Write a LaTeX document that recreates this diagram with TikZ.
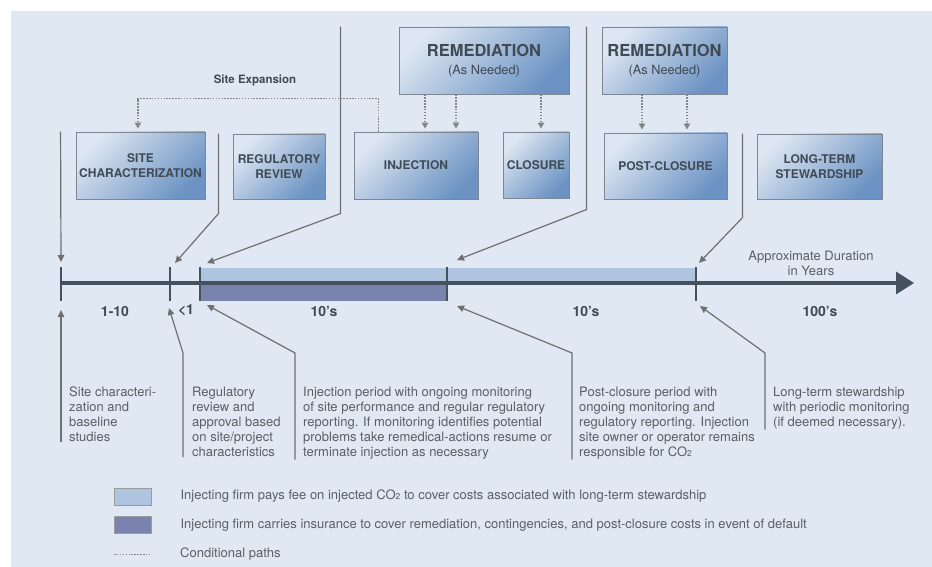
\documentclass[tikz,border=0pt]{standalone}
\usepackage{fontspec}
\setmainfont{TeX Gyre Heros}
\usepackage{xcolor}
\usepackage{tikz}
\usetikzlibrary{positioning}
\usetikzlibrary{arrows.meta,calc}

\definecolor{pagebg}{HTML}{DFE8F3}
\definecolor{boxtop}{HTML}{DDE6F2}
\definecolor{boxbot}{HTML}{6C93C3}
\definecolor{boxline}{HTML}{7D8793}
\definecolor{boxtext}{HTML}{404A55}
\definecolor{feeband}{HTML}{AFC4DF}
\definecolor{insband}{HTML}{7A83AE}
\definecolor{axisgray}{HTML}{44525E}
\definecolor{leadgray}{HTML}{707070}
\definecolor{dotgray}{HTML}{858585}
\definecolor{notegray}{HTML}{5A5F64}

\newcommand{\cotwo}{CO{\fontsize{8.5}{8}\selectfont 2}}

\tikzset{
  phase/.style={draw=boxline, line width=0.9pt, top color=boxtop, bottom color=boxbot,
    shading angle=45, text=boxtext, font=\bfseries\fontsize{12}{14.5}\selectfont,
    align=center, inner sep=0pt},
  remedy/.style={phase, font=\fontsize{12.8}{18}\selectfont},
  note/.style={text=notegray, font=\fontsize{13}{15}\selectfont, align=left,
    inner sep=0pt, anchor=north west},
  span/.style={text=boxtext, font=\bfseries\fontsize{14}{16}\selectfont, inner sep=0pt},
  callout/.style={draw=leadgray, line width=1.2pt, -{Triangle[length=7pt,width=6.5pt]}},
  condpath/.style={draw=dotgray, line width=1.6pt, dash pattern=on 1.5pt off 1.4pt},
  condarrow/.style={condpath, -{Triangle[length=6pt,width=6.5pt]}, shorten >=3pt},
  swatch/.style={draw=leadgray!70, line width=0.8pt, minimum width=37pt, minimum height=17pt, inner sep=0pt}
}

\begin{document}
\begin{tikzpicture}[x=1pt,y=-1pt]
\useasboundingbox (0,0) rectangle (932,567);
\fill[pagebg] (11,11) rectangle (932,567);

% phases
\node[phase, minimum width=129pt, minimum height=67pt] (site) at (140.5,165.5) {SITE\\CHARACTERIZATION};
\node[phase, minimum width=92pt, minimum height=65pt] (reg) at (279,166.5) {REGULATORY\\REVIEW};
\node[phase, minimum width=124pt, minimum height=67pt] (inj) at (416,165.5) {INJECTION};
\node[phase, minimum width=66pt, minimum height=66pt] (clos) at (536,165) {CLOSURE};
\node[phase, minimum width=123pt, minimum height=66pt] (post) at (665.5,166) {POST-CLOSURE};
\node[phase, minimum width=125pt, minimum height=65pt] (lts) at (819.5,166.5) {LONG-TERM\\STEWARDSHIP};

\node[remedy, minimum width=170pt, minimum height=67pt] (remA) at (484,60.5) {{\bfseries\fontsize{16.5}{18}\selectfont REMEDIATION}\\(As Needed)};
\node[remedy, minimum width=125pt, minimum height=67pt] (remB) at (664.5,60.5) {{\bfseries\fontsize{16.5}{18}\selectfont REMEDIATION}\\(As Needed)};

% conditional paths
\node[text=boxtext, font=\bfseries\fontsize{11.5}{13}\selectfont] (expand) at (255,80) {Site Expansion};
\draw[condarrow] ([xshift=25pt]inj.north west) -- ++(0,-33) -| ([xshift=-2.5pt]site.north);
\draw[condarrow] ([xshift=-59pt]remA.south) -- ([xshift=-59pt]remA.south |- inj.north);
\draw[condarrow] ([xshift=-28pt]remA.south) -- ([xshift=-28pt]remA.south |- inj.north);
\draw[condarrow] ([xshift=57pt]remA.south) -- ([xshift=57pt]remA.south |- clos.north);
\draw[condarrow] ([xshift=-22.5pt]remB.south) -- ([xshift=-22.5pt]remB.south |- post.north);
\draw[condarrow] ([xshift=22.5pt]remB.south) -- ([xshift=22.5pt]remB.south |- post.north);

% timeline
\coordinate (t0) at (61,283);
\coordinate (t1) at (170,283);
\coordinate (t2) at (200,283);
\coordinate (t3) at (447,283);
\coordinate (t4) at (696,283);
\coordinate (tend) at (914,283);
\coordinate (lowbend) at (0,353);

\fill[feeband] (200,268) rectangle (696,283);
\fill[insband] (200,283) rectangle (447,301);
\draw[axisgray, line width=3.5pt, -{Triangle[length=18pt,width=22pt]}] (t0) -- (tend);
\foreach \t in {t0,t1,t2,t3,t4}
  \draw[axisgray, line width=2.6pt] ([yshift=16pt]\t) -- ([yshift=-18pt]\t);

\node[span] (yrA) at (115,311) {1-10};
\node[span] (yrB) at (186,310) {<1};
\node[span] (yrC) at (324,311) {10's};
\node[span] (yrD) at (586,311) {10's};
\node[span] (yrE) at (820,311) {100's};
\node[text=notegray, font=\fontsize{13}{15}\selectfont, align=center] (dur) at (811,263.5) {Approximate Duration\\in Years};

% notes
\node[note] (nSite) at (69,387) {Site characteri-\\zation and\\baseline\\studies};
\node[note] (nReg) at (192,387) {Regulatory\\review and\\approval based\\on site/project\\characteristics};
\node[note] (nInj) at (303,387) {Injection period with ongoing monitoring\\of site performance and regular regulatory\\reporting. If monitoring identifies potential\\problems take remedical-actions resume or\\terminate injection as necessary};
\node[note] (nPost) at (579,387) {Post-closure period with\\ongoing monitoring and\\regulatory reporting. Injection\\site owner or operator remains\\responsible for \cotwo};
\node[note] (nLong) at (773,387) {Long-term stewardship\\with periodic monitoring\\(if deemed necessary).};

% callouts from above
\draw[callout] ([xshift=-15pt]site.north west) -- ([yshift=21pt]t0);
\draw[callout] ([xshift=-14pt]reg.north west) -- ++(0,80) -- ([xshift=5pt,yshift=20pt]t1);
\draw[callout] ([xshift=-58pt]remA.north west) -- ++(0,187) -- ([xshift=7pt,yshift=20pt]t2);
\draw[callout] ([xshift=-15pt]remB.north west) -- ++(0,183) -- ([xshift=10pt,yshift=23pt]t3);
\draw[callout] ([xshift=-14pt]lts.north west) -- ++(0,84) -- ([xshift=3pt,yshift=20pt]t4);

% callouts from below
\draw[callout] ([xshift=-8pt]nSite.south west) -- ([yshift=-27pt]t0);
\draw[callout] ([xshift=-9pt]nReg.south west) -- ([xshift=-9pt]nReg.south west |- lowbend) -- ([xshift=-1pt,yshift=-25pt]t1);
\draw[callout] ([xshift=-8pt]nInj.south west) -- ([xshift=-8pt]nInj.south west |- lowbend) -- ([xshift=7pt,yshift=-22pt]t2);
\draw[callout] ([xshift=-7pt]nPost.south west) -- ([xshift=-7pt]nPost.south west |- lowbend) -- ([xshift=10pt,yshift=-23pt]t3);
\draw[callout] ([xshift=-8pt]nLong.south west) -- ([xshift=-8pt]nLong.south west |- lowbend) -- ([xshift=4pt,yshift=-23pt]t4);

% key
\node[swatch, fill=feeband] (keyFee) at (132.5,496.5) {};
\node[swatch, fill=insband] (keyIns) at (132.5,525) {};
\coordinate (keyDotA) at (114,554);
\coordinate (keyDotB) at (150,554);
\draw[condpath, line width=1pt] (keyDotA) -- (keyDotB);
\node[note, anchor=west, right=29pt of keyFee] (txtFee) {Injecting firm pays fee on injected \cotwo{} to cover costs associated with long-term stewardship};
\node[note, anchor=west, right=29pt of keyIns] (txtIns) {Injecting firm carries insurance to cover remediation, contingencies, and post-closure costs in event of default};
\node[note, anchor=west, right=30pt of keyDotB] (txtDot) {Conditional paths};
\end{tikzpicture}
\end{document}
